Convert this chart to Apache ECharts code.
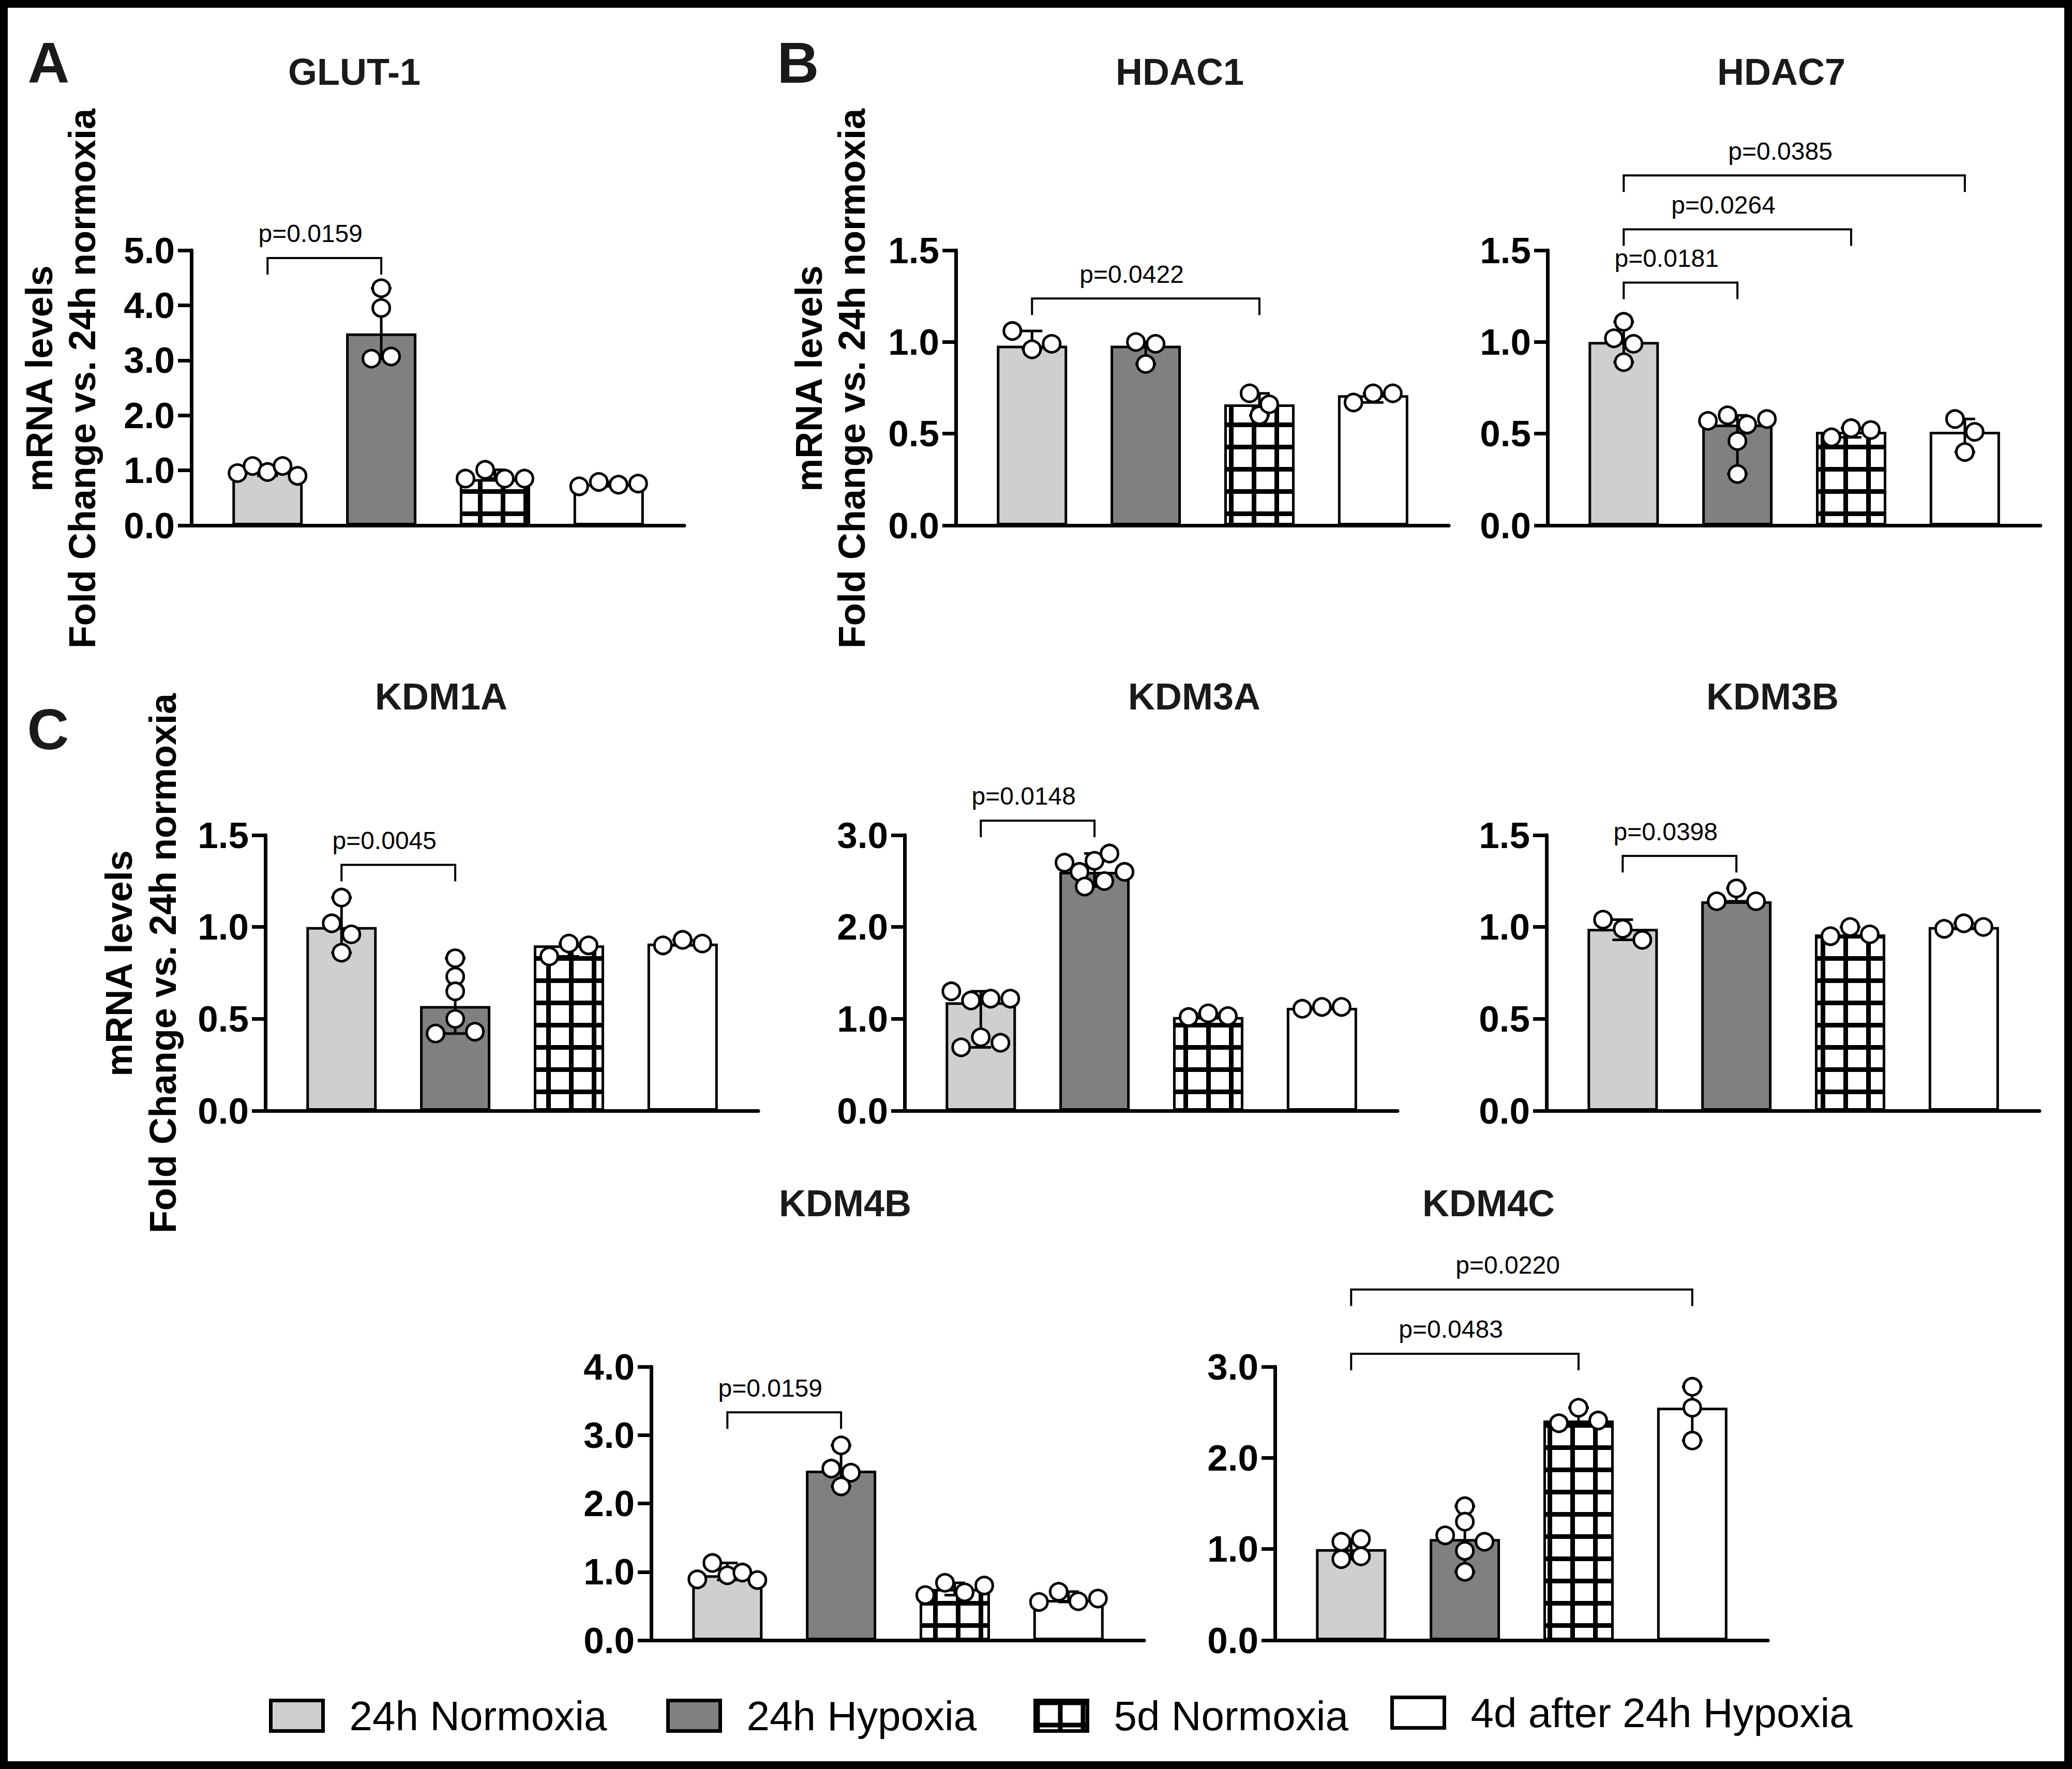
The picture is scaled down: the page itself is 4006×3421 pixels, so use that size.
<!DOCTYPE html>
<html>
<head>
<meta charset="utf-8">
<script src="https://cdn.jsdelivr.net/npm/echarts@6/dist/echarts.min.js"></script>
<style>
html,body{margin:0;padding:0;background:#fff;}
#chart{width:4006px;height:3421px;}
</style>
</head>
<body>
<div id="chart"></div>
<script>
// ---------------- DATA ----------------
const groups = ['24h Normoxia', '24h Hypoxia', '5d Normoxia', '4d after 24h Hypoxia'];
const genes = ['GLUT-1', 'HDAC1', 'HDAC7', 'KDM1A', 'KDM3A', 'KDM3B', 'KDM4B', 'KDM4C'];

// bar heights (fold change), one per group
const barsGLUT1 = [0.97, 3.49, 0.84, 0.75];
const barsHDAC1 = [0.98, 0.98, 0.66, 0.71];
const barsHDAC7 = [1.00, 0.55, 0.51, 0.51];
const barsKDM1A = [1.00, 0.57, 0.90, 0.91];
const barsKDM3A = [1.18, 2.60, 1.02, 1.12];
const barsKDM3B = [0.99, 1.14, 0.96, 1.00];
const barsKDM4B = [0.95, 2.48, 0.75, 0.59];
const barsKDM4C = [1.00, 1.11, 2.41, 2.55];

// individual replicates, one list per group
const ptsGLUT1 = [[0.95, 1.08, 0.97, 1.08, 0.90], [4.31, 3.95, 3.03, 3.07], [0.85, 1.01, 0.85, 0.85], [0.71, 0.79, 0.74, 0.76]];
const ptsHDAC1 = [[1.06, 0.96, 0.99], [1.00, 0.99, 0.88], [0.72, 0.60, 0.66], [0.67, 0.72, 0.72]];
const ptsHDAC7 = [[1.11, 1.02, 0.99, 0.89], [0.57, 0.60, 0.55, 0.58, 0.46, 0.28], [0.48, 0.53, 0.52], [0.58, 0.51, 0.40]];
const ptsKDM1A = [[1.16, 1.02, 0.96, 0.86], [0.83, 0.73, 0.65, 0.42, 0.50, 0.43], [0.84, 0.91, 0.90], [0.90, 0.93, 0.91]];
const ptsKDM3A = [[1.30, 1.20, 1.22, 1.22, 0.69, 0.80, 0.74], [2.70, 2.60, 2.72, 2.80, 2.60, 2.44, 2.50], [1.02, 1.06, 1.03], [1.11, 1.13, 1.13]];
const ptsKDM3B = [[1.04, 0.99, 0.93], [1.14, 1.21, 1.14], [0.95, 1.00, 0.96], [0.99, 1.02, 1.00]];
const ptsKDM4B = [[0.89, 1.13, 0.95, 0.99, 0.88], [2.85, 2.51, 2.45, 2.25], [0.66, 0.84, 0.70, 0.80], [0.56, 0.71, 0.57, 0.61]];
const ptsKDM4C = [[0.89, 1.08, 1.11, 0.92], [1.47, 1.30, 1.15, 0.98, 1.08, 0.75], [2.38, 2.55, 2.41], [2.78, 2.55, 2.19]];

// y tick labels
const ticksGLUT1 = ['0.0', '1.0', '2.0', '3.0', '4.0', '5.0'];
const ticksHalf = ['0.0', '0.5', '1.0', '1.5'];
const ticksThree = ['0.0', '1.0', '2.0', '3.0'];
const ticksFour = ['0.0', '1.0', '2.0', '3.0', '4.0'];

// significance brackets: [group a, group b, bracket level (y value), label]
const sigGLUT1 = [[0, 1, 4.86, 'p=0.0159']];
const sigHDAC1 = [[0, 2, 1.237, 'p=0.0422']];
const sigHDAC7 = [[0, 1, 1.324, 'p=0.0181'], [0, 2, 1.614, 'p=0.0264'], [0, 3, 1.908, 'p=0.0385']];
const sigKDM1A = [[0, 1, 1.338, 'p=0.0045']];
const sigKDM3A = [[0, 1, 3.158, 'p=0.0148']];
const sigKDM3B = [[0, 1, 1.387, 'p=0.0398']];
const sigKDM4B = [[0, 1, 3.333, 'p=0.0159']];
const sigKDM4C = [[0, 2, 3.142, 'p=0.0483'], [0, 3, 3.846, 'p=0.0220']];

const yTitle = ['mRNA levels', 'Fold Change vs. 24h normoxia'];
const panelLetters = ['A', 'B', 'C'];

// ---------------- LAYOUT / STYLE ----------------
const FONT = "'Liberation Sans', Arial, Helvetica, sans-serif";
const panels = [
  {bars: barsGLUT1, pts: ptsGLUT1, ticks: ticksGLUT1, sig: sigGLUT1, left: 370, top: 484, bottom: 1016, tx: 685, ty: 139, yt: [76, 159, 732]},
  {bars: barsHDAC1, pts: ptsHDAC1, ticks: ticksHalf, sig: sigHDAC1, left: 1848, top: 484, bottom: 1016, tx: 2281, ty: 139, yt: [1564, 1647, 732]},
  {bars: barsHDAC7, pts: ptsHDAC7, ticks: ticksHalf, sig: sigHDAC7, left: 2992, top: 484, bottom: 1016, tx: 3444, ty: 139},
  {bars: barsKDM1A, pts: ptsKDM1A, ticks: ticksHalf, sig: sigKDM1A, left: 513, top: 1615, bottom: 2148, tx: 853, ty: 1347, yt: [230, 315, 1863]},
  {bars: barsKDM3A, pts: ptsKDM3A, ticks: ticksThree, sig: sigKDM3A, left: 1749, top: 1615, bottom: 2148, tx: 2309, ty: 1347},
  {bars: barsKDM3B, pts: ptsKDM3B, ticks: ticksHalf, sig: sigKDM3B, left: 2990, top: 1615, bottom: 2148, tx: 3427, ty: 1347},
  {bars: barsKDM4B, pts: ptsKDM4B, ticks: ticksFour, sig: sigKDM4B, left: 1259, top: 2643, bottom: 3172, tx: 1634, ty: 2327},
  {bars: barsKDM4C, pts: ptsKDM4C, ticks: ticksThree, sig: sigKDM4C, left: 2465, top: 2643, bottom: 3172, tx: 2878, ty: 2327}
];
const letterPos = [[94, 121], [1543, 121], [93, 1410]];
const legendPos = [[520, 3278], [1288, 3278], [1998, 3278], [2688, 3272]];

function gridPattern() {
  const c = document.createElement('canvas');
  c.width = 44; c.height = 43;
  const x = c.getContext('2d');
  x.fillStyle = '#fff'; x.fillRect(0, 0, 44, 43);
  x.fillStyle = '#000';
  x.fillRect(0, 0, 9, 43);
  x.fillRect(0, 0, 44, 9);
  return c;
}
const groupColors = ['#cfcfcf', '#808080', {image: gridPattern(), repeat: 'repeat'}, '#ffffff'];

function pointsRender(pts) {
  return function (params, api) {
    const g = api.value(0);
    const vals = pts[g];
    const cx = api.coord([g, 0])[0];
    const lo = Math.min.apply(null, vals), hi = Math.max.apply(null, vals);
    const yLo = api.coord([g, lo])[1], yHi = api.coord([g, hi])[1];
    const cap = 20;
    const ls = {stroke: '#000', lineWidth: 5};
    const children = [
      {type: 'line', shape: {x1: cx, y1: yLo, x2: cx, y2: yHi}, style: ls},
      {type: 'line', shape: {x1: cx - cap, y1: yLo, x2: cx + cap, y2: yLo}, style: ls},
      {type: 'line', shape: {x1: cx - cap, y1: yHi, x2: cx + cap, y2: yHi}, style: ls}
    ];
    // simple row-based swarm layout
    const items = vals.map((v, i) => ({v: v, i: i, y: api.coord([g, v])[1]}));
    const sorted = items.slice().sort((a, b) => a.y - b.y);
    const rows = [];
    sorted.forEach(p => {
      const r = rows[rows.length - 1];
      if (r && p.y - r[r.length - 1].y <= 26 && p.y - r[0].y <= 40) r.push(p); else rows.push([p]);
    });
    rows.forEach(r => {
      r.sort((a, b) => a.i - b.i);
      const n = r.length;
      const s = n <= 4 ? 38 : 116 / (n - 1);
      r.forEach((p, k) => { p.x = cx + (k - (n - 1) / 2) * s; });
    });
    items.forEach(p => children.push({
      type: 'circle', shape: {cx: p.x, cy: p.y, r: 16.5},
      style: {fill: '#fff', stroke: '#000', lineWidth: 5}
    }));
    return {type: 'group', children: children};
  };
}

function sigRender(sig) {
  return function (params, api) {
    const b = sig[params.dataIndex];
    const p1 = api.coord([b[0], b[2]]), p2 = api.coord([b[1], b[2]]);
    const leg = 32;
    return {type: 'group', children: [
      {type: 'polyline', shape: {points: [[p1[0], p1[1] + leg], [p1[0], p1[1]], [p2[0], p2[1]], [p2[0], p2[1] + leg]]},
       style: {stroke: '#000', lineWidth: 4, fill: null}},
      {type: 'text', x: (p1[0] + p2[0]) / 2 - 27, y: p1[1] - 47,
       style: {text: b[3], fill: '#000', fontSize: 48, fontFamily: FONT,
               align: 'center', verticalAlign: 'middle', textAlign: 'center', textVerticalAlign: 'middle'}}
    ]};
  };
}

const grid = [], xAxis = [], yAxis = [], series = [];
const graphic = [];

panels.forEach((P, i) => {
  grid.push({left: P.left, top: P.top, width: 953, height: P.bottom - P.top, containLabel: false, outerBoundsMode: 'none'});
  xAxis.push({
    type: 'value', gridIndex: i, min: -0.67, max: 3.665,
    axisLine: {show: true, onZero: false, lineStyle: {color: '#000', width: 7}},
    axisTick: {show: false}, axisLabel: {show: false}, splitLine: {show: false}
  });
  const lo = +P.ticks[0], hi = +P.ticks[P.ticks.length - 1], step = +P.ticks[1] - lo;
  const labels = P.ticks;
  yAxis.push({
    type: 'value', gridIndex: i, min: lo, max: hi, interval: step,
    axisLine: {show: true, onZero: false, lineStyle: {color: '#000', width: 7}},
    axisTick: {show: true, inside: false, length: 26, lineStyle: {color: '#000', width: 7}},
    axisLabel: {show: true, margin: 32, fontSize: 71, fontWeight: 'bold', fontFamily: FONT, color: '#000',
      showMinLabel: true, showMaxLabel: true, hideOverlap: false,
      formatter: v => labels[Math.round((v - lo) / step)]},
    splitLine: {show: false}
  });
  groups.forEach((name, g) => {
    series.push({
      type: 'bar', name: name, xAxisIndex: i, yAxisIndex: i,
      data: [[g, P.bars[g]]], barWidth: 136, barGap: '-100%',
      itemStyle: {color: groupColors[g], borderColor: '#000', borderWidth: 5},
      silent: true, z: 2, animation: false
    });
  });
  series.push({
    type: 'custom', xAxisIndex: i, yAxisIndex: i, clip: false, silent: true, z: 5,
    data: P.bars.map((v, g) => [g, v]), renderItem: pointsRender(P.pts), animation: false
  });
  series.push({
    type: 'custom', xAxisIndex: i, yAxisIndex: i, clip: false, silent: true, z: 5,
    data: P.sig.map(b => [b[0], b[2]]), renderItem: sigRender(P.sig), animation: false
  });
  graphic.push({type: 'text', x: P.tx, y: P.ty, silent: true,
    style: {text: genes[i], fill: '#1a1a1a', fontSize: 72, fontWeight: 'bold', fontFamily: FONT,
            align: 'center', verticalAlign: 'middle', textAlign: 'center', textVerticalAlign: 'middle'}});
  if (P.yt) {
    yTitle.forEach((t, k) => {
      graphic.push({type: 'text', x: P.yt[k], y: P.yt[2], rotation: Math.PI / 2, silent: true,
        style: {text: t, fill: '#000', fontSize: 72, fontWeight: 'bold', fontFamily: FONT,
                align: 'center', verticalAlign: 'middle', textAlign: 'center', textVerticalAlign: 'middle'}});
    });
  }
});

panelLetters.forEach((L, k) => {
  graphic.push({type: 'text', x: letterPos[k][0], y: letterPos[k][1], silent: true,
    style: {text: L, fill: '#1a1a1a', fontSize: 112, fontWeight: 'bold', fontFamily: FONT,
            align: 'center', verticalAlign: 'middle', textAlign: 'center', textVerticalAlign: 'middle'}});
});
graphic.push({type: 'rect', silent: true, z: 100,
  shape: {x: 7.5, y: 7.5, width: 4006 - 15, height: 3421 - 15},
  style: {fill: null, stroke: '#000', lineWidth: 15}});

const legend = groups.map((name, k) => ({
  data: [name], left: legendPos[k][0], top: legendPos[k][1], orient: 'horizontal', padding: 0,
  itemWidth: 101, itemHeight: 59, itemGap: 0, icon: 'rect', selectedMode: false,
  itemStyle: {borderColor: '#000', borderWidth: 7},
  textStyle: {fontSize: 80, fontFamily: FONT, color: '#000', padding: [0, 0, 0, 46]}
}));

const chart = echarts.init(document.getElementById('chart'), null, {renderer: 'svg', width: 4006, height: 3421});
chart.setOption({
  backgroundColor: '#fff',
  animation: false,
  grid: grid, xAxis: xAxis, yAxis: yAxis, series: series,
  legend: legend, graphic: graphic
});
</script>
</body>
</html>
